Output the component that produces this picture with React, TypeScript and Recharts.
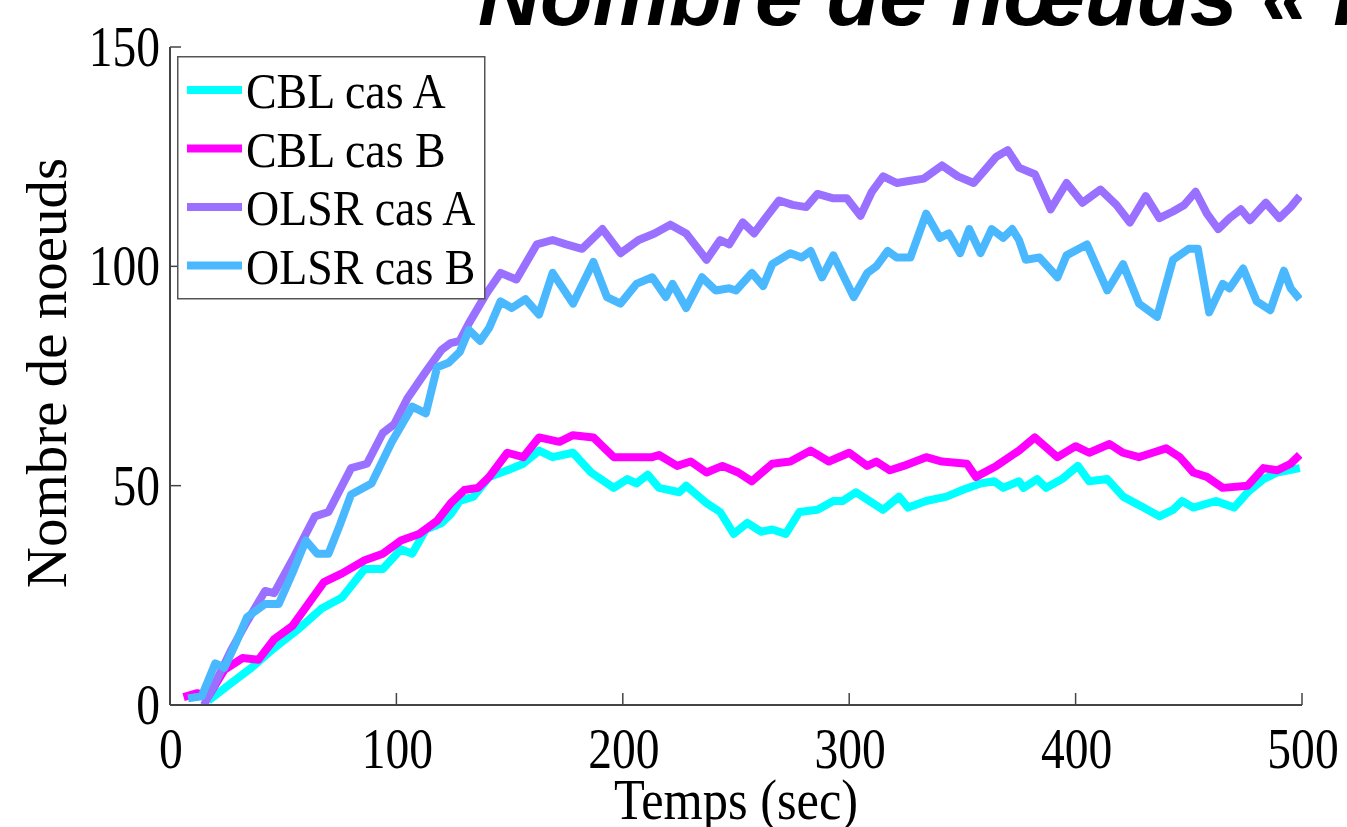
import React from "react";
import { LineChart, Line, XAxis, YAxis, Legend } from "recharts";

// temps (sec) / nombre de noeuds
const T_CBL_A = [17, 22, 27, 36, 46, 56, 67, 76, 86, 94, 102, 107, 113, 120, 124, 128, 134, 141, 149, 156, 163, 169, 178, 186, 196, 202, 206, 211, 216, 225, 228, 237, 243, 249, 255, 261, 266, 272, 278, 286, 293, 297, 303, 309, 315, 322, 326, 334, 343, 350, 358, 364, 368, 375, 377, 383, 387, 394, 401, 406, 414, 421, 430, 437, 443, 447, 452, 462, 470, 476, 483, 489, 499];
const CBL_A = [1, 3, 5, 8.5, 13, 17, 22, 24.5, 31, 31, 35.5, 34.5, 40, 41.5, 43.5, 46.5, 47.5, 52, 53.5, 55, 58, 56.5, 57.5, 53, 49.5, 51.5, 50.5, 52.5, 49.5, 48.5, 50, 46, 44, 39, 41.5, 39.5, 40, 39, 44, 44.5, 46.5, 46.5, 48.5, 46.5, 44.5, 47.5, 45, 46.5, 47.5, 49, 50.5, 51, 49.5, 51, 49.5, 51.5, 49.5, 51.5, 54.5, 51, 51.5, 47.5, 45, 43, 44.5, 46.5, 45, 46.5, 45, 48.5, 51.5, 53, 54];

const T_CBL_B = [6, 12, 17, 24, 32, 39, 46, 54, 61, 68, 76, 86, 94, 102, 110, 118, 124, 130, 136, 141, 149, 156, 163, 172, 178, 187, 196, 203, 213, 216, 224, 230, 237, 244, 251, 257, 266, 274, 283, 291, 300, 308, 312, 318, 324, 334, 341, 352, 356, 365, 375, 382, 392, 400, 406, 415, 421, 428, 434, 440, 446, 452, 458, 465, 476, 483, 489, 495, 499];
const CBL_B = [1.8, 2.7, 2, 8, 10.7, 10.3, 15, 18, 23, 28, 30, 33, 34.5, 37.5, 39, 42, 46, 49, 49.5, 52, 57.5, 56.5, 61, 60, 61.5, 61, 56.5, 56.5, 56.5, 57, 54.5, 55.5, 53, 54.5, 53, 51, 55, 55.5, 58, 55.5, 57.5, 54.5, 55.5, 53.5, 54.5, 56.5, 55.5, 55, 52, 54.5, 58, 61, 56.5, 59, 57.5, 59.5, 57.5, 56.5, 57.5, 58.5, 56.5, 53, 52, 49.5, 50, 54, 53.5, 55, 57];

const T_OLSR_A = [15, 20, 27, 34, 42, 46, 55, 64, 70, 80, 87, 94, 99, 105, 113, 120, 124, 128, 132, 140, 146, 153, 162, 169, 175, 182, 191, 199, 207, 214, 221, 228, 237, 243, 247, 253, 258, 263, 269, 275, 281, 286, 293, 299, 305, 310, 315, 321, 327, 333, 341, 348, 355, 360, 365, 370, 375, 382, 389, 396, 403, 411, 418, 424, 431, 437, 443, 448, 453, 458, 463, 468, 473, 477, 484, 490, 495, 499];
const OLSR_A = [0, 5, 12.5, 19, 26, 25.5, 34, 43, 44, 54, 55, 62, 64, 70, 76, 81, 82.5, 83, 87, 94, 98.5, 97, 105, 106, 105, 104, 108.5, 103, 106, 107.5, 109.5, 107.5, 101.5, 106, 105, 110, 107.5, 111, 115, 114, 113.5, 116.5, 115.5, 115.5, 111.5, 117, 120.5, 119, 119.5, 120, 123, 120.5, 119, 122, 125, 126.5, 122.5, 121, 113, 119, 114.5, 117.5, 114, 110, 116, 111, 112.5, 114, 117, 112, 108.5, 111, 113, 110.5, 114.5, 111, 113.5, 116];

const T_OLSR_B = [8, 14, 20, 24, 29, 34, 42, 48, 54, 60, 65, 70, 75, 80, 89, 98, 107, 113, 118, 123, 128, 132, 137, 141, 146, 151, 157, 163, 169, 178, 187, 193, 199, 206, 213, 219, 222, 228, 235, 241, 247, 250, 257, 262, 266, 274, 279, 283, 288, 293, 302, 308, 312, 317, 321, 327, 334, 340, 344, 349, 353, 358, 363, 368, 372, 375, 378, 384, 392, 396, 405, 414, 421, 428, 436, 443, 450, 454, 459, 465, 468, 474, 480, 486, 492, 495, 499];
const OLSR_B = [1.5, 2, 9.5, 8.5, 14, 20, 23, 23, 30, 37.5, 34.5, 34.5, 41, 48, 50.5, 60, 68, 66.5, 77, 78, 80.5, 85.5, 83, 86, 92, 90.5, 92.5, 89, 98.5, 91.5, 101, 93, 91.5, 96, 97.5, 93, 96, 90.5, 97.5, 94.5, 95, 94.5, 98.5, 95.5, 100.5, 103, 102, 103.5, 97.5, 102.5, 93, 98.5, 100, 103.5, 102, 102, 112, 106.5, 107.5, 103, 108.5, 103, 108.5, 106.5, 108.5, 106, 101.5, 102, 97.5, 102.5, 105, 94.5, 100.5, 91.5, 88.5, 101.5, 104, 104, 89.5, 96, 95, 99.5, 92, 90, 99, 95, 92.5];

const X_TICKS = [0, 100, 200, 300, 400, 500];
const Y_TICKS = [0, 50, 100, 150];

const toPoints = (ts: number[], vs: number[]) => ts.map((t, i) => ({ t, v: vs[i] }));

const series = [
  { name: "CBL cas A", color: "#00FFFF", data: toPoints(T_CBL_A, CBL_A) },
  { name: "CBL cas B", color: "#FF00FF", data: toPoints(T_CBL_B, CBL_B) },
  { name: "OLSR cas A", color: "#9970FF", data: toPoints(T_OLSR_A, OLSR_A) },
  { name: "OLSR cas B", color: "#4AB8FF", data: toPoints(T_OLSR_B, OLSR_B) },
];

const SERIF = "'Liberation Serif', 'Times New Roman', serif";
const AXIS = "#444";

const XTick = ({ x, y, payload }: any) => (
  <g>
    <line x1={x} y1={y} x2={x} y2={y - 12} stroke={AXIS} strokeWidth={1.5} />
    <text
      transform={`translate(${x + 1},${y + 63}) scale(0.82,1)`}
      textAnchor="middle"
      fontFamily={SERIF}
      fontSize={58}
      fill="#000"
    >
      {payload.value}
    </text>
  </g>
);

const YTick = ({ x, y, payload }: any) => (
  <g>
    <line x1={x} y1={y} x2={x + 11} y2={y} stroke={AXIS} strokeWidth={1.5} />
    <text
      transform={`translate(${x - 10},${y + 19}) scale(0.82,1)`}
      textAnchor="end"
      fontFamily={SERIF}
      fontSize={58}
      fill="#000"
    >
      {payload.value}
    </text>
  </g>
);

const renderLegend = () => (
  <svg width={310} height={246} style={{ display: "block" }}>
    <rect x={0.75} y={0.75} width={307} height={242} fill="#fff" stroke="#555" strokeWidth={1.5} />
    {series.map((s, i) => {
      const cy = 34 + i * 58.5;
      return (
        <g key={s.name}>
          <line x1={10} y1={cy} x2={65} y2={cy} stroke={s.color} strokeWidth={8} />
          <text
            transform={`translate(69,${cy + 18}) scale(0.9,1)`}
            fontFamily={SERIF}
            fontSize={51}
            fill="#000"
          >
            {s.name}
          </text>
        </g>
      );
    })}
  </svg>
);

export default function App() {
  return (
    <div style={{ position: "absolute", left: 0, top: 0, width: 1347, height: 827, overflow: "hidden", background: "#fff" }}>
      <LineChart width={1347} height={827} margin={{ top: 47, right: 45, bottom: 0, left: 0 }}>
        <XAxis
          type="number"
          dataKey="t"
          domain={[0, 500]}
          ticks={X_TICKS}
          allowDataOverflow
          height={122}
          tickSize={0}
          tickMargin={0}
          tick={<XTick />}
          stroke={AXIS}
          strokeWidth={2}
          interval={0}
        />
        <YAxis
          type="number"
          dataKey="v"
          domain={[0, 150]}
          ticks={Y_TICKS}
          allowDataOverflow
          width={170}
          tickSize={0}
          tickMargin={0}
          tick={<YTick />}
          stroke={AXIS}
          strokeWidth={2}
          interval={0}
        />
        <Legend
          layout="vertical"
          align="center"
          verticalAlign="middle"
          content={renderLegend}
          wrapperStyle={{ left: 177, top: 56, width: 310, height: 246 }}
        />
        {series.map((s) => (
          <Line
            key={s.name}
            data={s.data}
            dataKey="v"
            name={s.name}
            type="linear"
            stroke={s.color}
            strokeWidth={8}
            strokeLinejoin="round"
            dot={false}
            activeDot={false}
            isAnimationActive={false}
          />
        ))}
      </LineChart>
      <svg width={1347} height={827} style={{ position: "absolute", left: 0, top: 0, pointerEvents: "none" }}>
        <text
          x={478}
          y={25}
          fontFamily="'Liberation Sans', Arial, sans-serif"
          fontWeight="bold"
          fontStyle="italic"
          fontSize={86}
          fill="#000"
        >
          Nombre de nœuds « r
        </text>
        <text
          transform="translate(736,819) scale(0.9,1)"
          textAnchor="middle"
          fontFamily={SERIF}
          fontSize={56}
          fill="#000"
        >
          Temps (sec)
        </text>
        <text
          transform="translate(66,373) rotate(-90)"
          textAnchor="middle"
          fontFamily={SERIF}
          fontSize={57}
          fill="#000"
        >
          Nombre de noeuds
        </text>
      </svg>
    </div>
  );
}
